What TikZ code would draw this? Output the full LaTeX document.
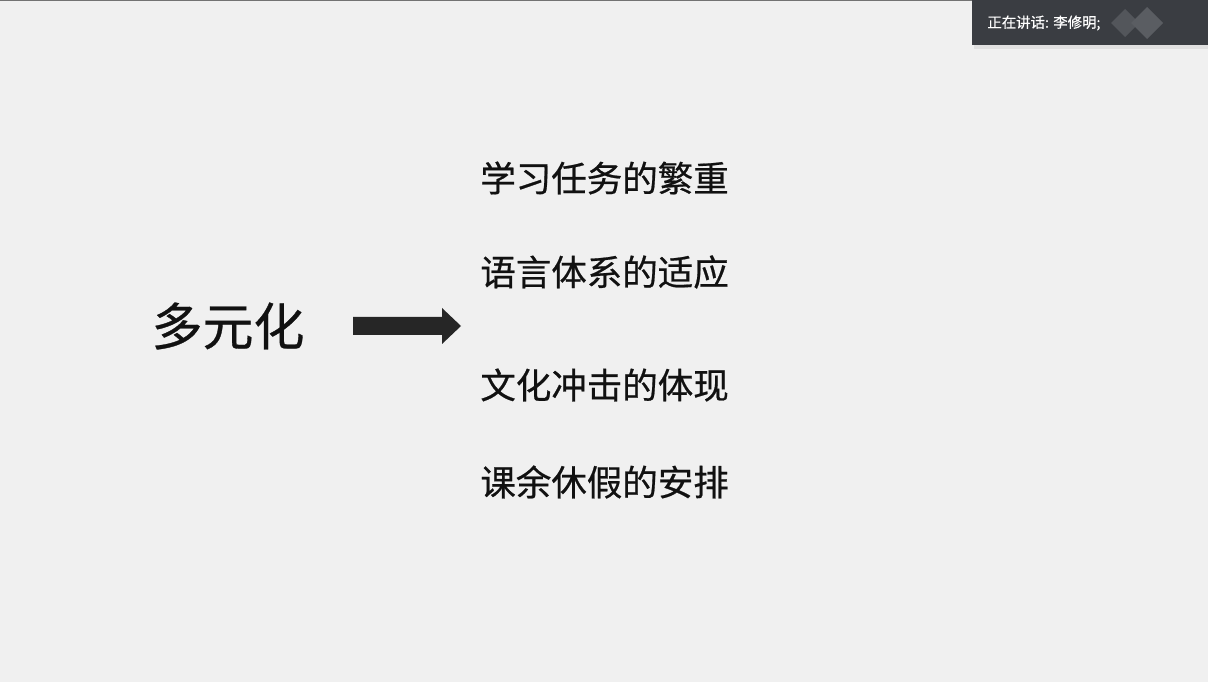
\documentclass[tikz,border=0pt]{standalone}
\usepackage{fontspec}
\usepackage{tikz}
\usetikzlibrary{positioning}
\setmainfont{Noto Sans CJK SC}
\newfontfamily\cjk[FakeBold=0.6]{Noto Sans CJK SC}
\definecolor{slide}  {HTML}{F0F0F0}
\definecolor{ink}    {HTML}{111111}
\definecolor{arrowc} {HTML}{262626}
\definecolor{banner} {HTML}{3A3D42}
\definecolor{logo}   {HTML}{5A5D62}

\begin{document}
\begin{tikzpicture}[x=0.02cm, y=-0.02cm, font=\cjk,
    item/.style={anchor=west, inner sep=0pt, text=ink, font=\cjk\fontsize{20.2pt}{24pt}\selectfont}]
  \fill[slide] (0,0) rectangle (1208,682);
  \useasboundingbox (0,0) rectangle (1208,682);
  \draw[black!55, line width=0.6pt] (0,0.5) -- (1208,0.5);

  % speaker banner
  \fill[black!12] (974,2) rectangle (1208,49);
  \fill[banner] (972,0) rectangle (1208,45);
  \node[anchor=west, inner sep=0pt, text=white, font=\cjk\fontsize{8.2pt}{10pt}\selectfont] (spk) at (987,23) {正在讲话: 李修明;};
  \fill[logo, opacity=0.8] (1111,23) -- (1125,9) -- (1139,23) -- (1125,37) -- cycle;
  \fill[logo] (1131,23) -- (1147,7) -- (1163,23) -- (1147,39) -- cycle;

  % left term and arrow
  \node[inner sep=0pt, text=ink, font=\cjk\fontsize{29pt}{32pt}\selectfont] (src) at (228,326) {多元化};
  \fill[arrowc] (353,317) -- (442,317) -- (442,308) -- (461,326) -- (442,344) -- (442,335) -- (353,335) -- cycle;

  % list on the right
  \node[item] (a) at (480,178) {学习任务的繁重};
  \node[item] (b) at (480,272) {语言体系的适应};
  \node[item] (c) at (480,385) {文化冲击的体现};
  \node[item] (d) at (480,482) {课余休假的安排};
\end{tikzpicture}
\end{document}
